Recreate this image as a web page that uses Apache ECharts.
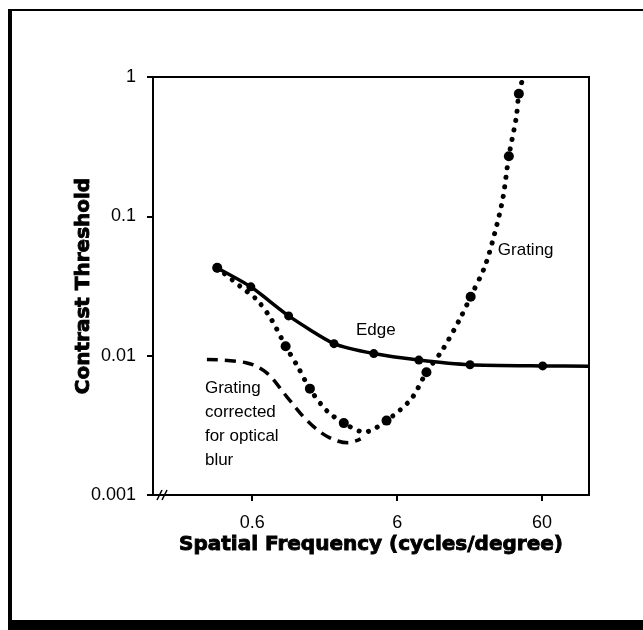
<!DOCTYPE html>
<html>
<head>
<meta charset="utf-8">
<script src="https://cdn.jsdelivr.net/npm/echarts@6/dist/echarts.min.js"></script>
<style>
html,body{margin:0;padding:0;background:#fff;}
#chart{width:643px;height:630px;}
</style>
</head>
<body>
<div id="chart"></div>
<script>
// ---- data ----
const xTicks = [0.6, 6, 60];
const yTicks = [0.001, 0.01, 0.1, 1];

const edgeX = [0.344, 0.587, 1.07, 2.2, 4.14, 8.47, 19.1, 60.6, 126];
const edgeY = [0.0426, 0.0312, 0.0193, 0.0122, 0.01035, 0.0093, 0.0086, 0.00844, 0.0084];
const edgeMeasuredCount = 8;

const gratX = [0.344, 0.494, 0.643, 0.806, 1.02, 1.245, 1.50, 1.96, 2.57, 3.57, 5.07, 7.5, 9.56, 12.4, 16.2, 19.3, 24.2, 28.3, 32.2, 35.4, 39.8, 41.5, 43.6];
const gratY = [0.0427, 0.0315, 0.0253, 0.0185, 0.0117, 0.00824, 0.00577, 0.00403, 0.00328, 0.00283, 0.00342, 0.00489, 0.0076, 0.0111, 0.0182, 0.0265, 0.0438, 0.0759, 0.135, 0.27, 0.511, 0.758, 0.929];

const gratMeasX = [0.344, 1.02, 1.50, 2.57, 5.07, 9.56, 19.3, 35.4, 41.5];
const gratMeasY = [0.0427, 0.0117, 0.0058, 0.00328, 0.00342, 0.0076, 0.0265, 0.27, 0.758];

const corrX = [0.292, 0.543, 0.752, 1.04, 1.44, 1.99, 2.76, 3.36];
const corrY = [0.00938, 0.0089, 0.00755, 0.00507, 0.00341, 0.00262, 0.00237, 0.00253];

const labelTexts = ['Edge', 'Grating', 'Grating\ncorrected\nfor optical\nblur'];
const labelX = [4.28, 29.7, 0.283];
const labelY = [0.0152, 0.0567, 0.00319];
const labelAlign = ['center', 'left', 'left'];

const xName = 'Spatial Frequency (cycles/degree)';
const yName = 'Contrast Threshold';

// ---- build ----
const zip = (a, b) => a.map((v, i) => [v, b[i]]);
const FONT = '"Liberation Sans", Arial, sans-serif';
const HEAVY = '"DejaVu Sans", "Liberation Sans", sans-serif';
const heavy = { fontFamily: HEAVY, fontWeight: 'bold', fontSize: 20, color: '#000', textBorderColor: '#000', textBorderWidth: 0.9 };

const chart = echarts.init(document.getElementById('chart'), null, { renderer: 'canvas' });

const option = {
  animation: false,
  backgroundColor: '#fff',
  grid: { left: 153, top: 77, right: 54, bottom: 135, show: true, borderColor: '#000', borderWidth: 2, backgroundColor: 'transparent' },
  xAxis: {
    type: 'log', logBase: 10, min: 0.124, max: 126.5,
    name: xName, nameLocation: 'middle', nameGap: 40, nameMoveOverlap: false, nameTextStyle: heavy,
    axisLine: { lineStyle: { color: '#000', width: 2 } },
    axisTick: { show: true, length: 6, inside: false, customValues: xTicks, lineStyle: { color: '#000', width: 2 } },
    axisLabel: { customValues: xTicks, margin: 19, fontFamily: FONT, fontSize: 18, color: '#000', formatter: v => String(v) },
    splitLine: { show: false }, minorTick: { show: false }
  },
  yAxis: {
    type: 'log', logBase: 10, min: 0.001, max: 1,
    name: yName, nameLocation: 'middle', nameGap: 59, nameMoveOverlap: false, nameRotate: 90, nameTextStyle: heavy,
    axisLine: { lineStyle: { color: '#000', width: 2 } },
    axisTick: { show: true, length: 6, customValues: yTicks, lineStyle: { color: '#000', width: 2 } },
    axisLabel: { customValues: yTicks, margin: 17, fontFamily: FONT, fontSize: 18, color: '#000', formatter: v => String(v) },
    splitLine: { show: false }
  },
  series: [
    {
      name: 'Edge', type: 'line', smooth: 0.2, symbol: 'none',
      data: zip(edgeX, edgeY),
      lineStyle: { color: '#000', width: 3.5 }
    },
    {
      name: 'Edge points', type: 'scatter', symbol: 'circle', symbolSize: 9,
      data: zip(edgeX.slice(0, edgeMeasuredCount), edgeY.slice(0, edgeMeasuredCount)),
      itemStyle: { color: '#000', opacity: 1 }
    },
    {
      name: 'Grating', type: 'line', smooth: 0.3, symbol: 'none',
      data: zip(gratX, gratY),
      lineStyle: { color: '#000', width: 5, type: [0.1, 9.5], cap: 'round' }
    },
    {
      name: 'Grating points', type: 'scatter', symbol: 'circle', symbolSize: 10,
      data: zip(gratMeasX, gratMeasY),
      itemStyle: { color: '#000', opacity: 1 }
    },
    {
      name: 'Corrected', type: 'line', smooth: 0.35, symbol: 'none',
      data: zip(corrX, corrY),
      lineStyle: { color: '#000', width: 3.5, type: [11, 7] }
    },
    {
      name: 'Annotations', type: 'scatter', symbol: 'circle', symbolSize: 1,
      itemStyle: { color: 'rgba(0,0,0,0)', opacity: 1 },
      data: labelTexts.map((t, i) => ({
        value: [labelX[i], labelY[i]],
        label: { show: true, position: 'inside', formatter: t, align: labelAlign[i], verticalAlign: 'middle',
                 fontFamily: FONT, fontSize: 17, color: '#000', opacity: 1, lineHeight: 24 }
      })),
      z: 10
    }
  ],
  graphic: [
    // outer frame of the figure
    { type: 'rect', shape: { x: 8, y: 9, width: 635, height: 2 }, style: { fill: '#000' }, silent: true },
    { type: 'rect', shape: { x: 8, y: 9, width: 4, height: 621 }, style: { fill: '#000' }, silent: true },
    { type: 'rect', shape: { x: 8, y: 620, width: 635, height: 10 }, style: { fill: '#000' }, silent: true },
    // axis break mark on x axis
    { type: 'line', shape: { x1: 157, y1: 500, x2: 162, y2: 490 }, style: { stroke: '#000', lineWidth: 1.5 }, silent: true },
    { type: 'line', shape: { x1: 162, y1: 500, x2: 167, y2: 490 }, style: { stroke: '#000', lineWidth: 1.5 }, silent: true }
  ]
};
chart.setOption(option);
</script>
</body>
</html>
